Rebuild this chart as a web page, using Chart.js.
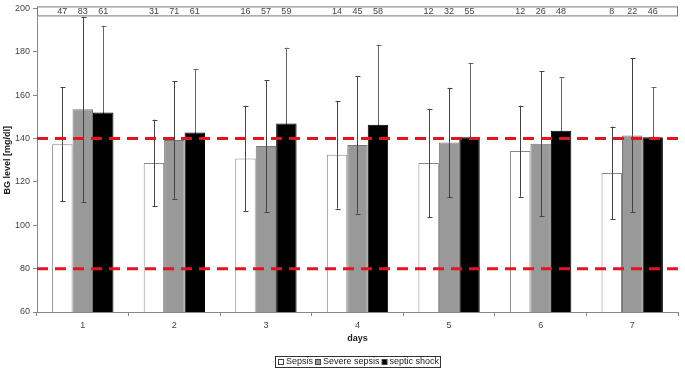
<!DOCTYPE html>
<html>
<head>
<meta charset="utf-8">
<script src="https://cdn.jsdelivr.net/npm/chart.js@4/dist/chart.umd.min.js"></script>
<style>
  html, body { margin: 0; padding: 0; background: #fff; }
  #wrap { width: 685px; height: 372px; }
</style>
</head>
<body>
<div id="wrap"><canvas id="grafico" width="685" height="372"></canvas></div>
<script>
  // dados
  const dias = ['1', '2', '3', '4', '5', '6', '7'];
  const nomesSeries = ['Sepsis', 'Severe sepsis', 'septic shock'];

  const mediaSepsis = [137.4, 128.7, 130.8, 132.5, 128.7, 134.2, 124.1];
  const mediaSevere = [153.5, 139.3, 136.5, 137.0, 138.2, 137.6, 141.4];
  const mediaShock = [152.0, 142.8, 146.9, 146.4, 140.6, 143.6, 140.6];

  const dpSepsis = [26.3, 20.0, 24.3, 24.8, 25.0, 21.0, 21.4];
  const dpSevere = [42.7, 27.1, 30.5, 31.6, 25.2, 33.5, 35.5];
  const dpShock = [40.0, 29.2, 35.0, 36.9, 34.3, 24.6, 23.0];

  const nSepsis = [47, 31, 16, 14, 12, 12, 8];
  const nSevere = [83, 71, 57, 45, 32, 26, 22];
  const nShock = [61, 61, 59, 58, 55, 48, 46];

  const limites = [140, 80];
  const yTicks = [60, 80, 100, 120, 140, 160, 180, 200];

  const fonte = '"Liberation Sans", Arial, sans-serif';
  const dpSeries = [dpSepsis, dpSevere, dpShock];
  const nSeries = [nSepsis, nSevere, nShock];

  // barras de erro, linhas de referência, caixa com n e legenda
  const extras = {
    id: 'extras',
    afterDatasetsDraw(chart) {
      const ctx = chart.ctx;
      const area = chart.chartArea;
      const y = chart.scales.y;
      const boxBottom = area.top + 8;

      // barras de erro (a parte de baixo da série preta fica escondida na barra)
      ctx.save();
      ctx.lineWidth = 1;
      chart.data.datasets.forEach((ds, i) => {
        const meta = chart.getDatasetMeta(i);
        meta.data.forEach((bar, j) => {
          const m = ds.data[j];
          const sd = dpSeries[i][j];
          const yTop = Math.max(y.getPixelForValue(m + sd), boxBottom);
          const yMid = y.getPixelForValue(m);
          const yBot = y.getPixelForValue(m - sd);
          const x = Math.round(bar.x) + 0.5;
          ctx.strokeStyle = i === 2 ? '#666' : '#444';
          ctx.beginPath();
          ctx.moveTo(x, yTop);
          ctx.lineTo(x, yMid);
          if (yTop > boxBottom) {
            ctx.moveTo(x - 2, Math.round(yTop) + 0.5);
            ctx.lineTo(x + 3, Math.round(yTop) + 0.5);
          }
          ctx.stroke();
          ctx.strokeStyle = i === 2 ? '#000' : '#444';
          ctx.beginPath();
          ctx.moveTo(x, yMid);
          ctx.lineTo(x, yBot);
          ctx.moveTo(x - 2, Math.round(yBot) + 0.5);
          ctx.lineTo(x + 3, Math.round(yBot) + 0.5);
          ctx.stroke();
        });
      });
      ctx.restore();

      // linhas tracejadas vermelhas
      ctx.save();
      ctx.strokeStyle = '#e3141c';
      ctx.lineWidth = 3;
      ctx.setLineDash([11, 7]);
      limites.forEach(v => {
        const py = y.getPixelForValue(v);
        ctx.beginPath();
        ctx.moveTo(area.left, py);
        ctx.lineTo(area.right, py);
        ctx.stroke();
      });
      ctx.restore();

      // caixa com os n
      ctx.save();
      ctx.fillStyle = '#fff';
      ctx.fillRect(area.left, area.top - 2, area.right - area.left, boxBottom - area.top + 2);
      ctx.strokeStyle = '#777';
      ctx.lineWidth = 1;
      ctx.strokeRect(area.left + 0.5, area.top - 1.5, area.right - area.left - 1, boxBottom - area.top + 1);
      ctx.fillStyle = '#444';
      ctx.font = '9px ' + fonte;
      ctx.textAlign = 'center';
      ctx.textBaseline = 'middle';
      chart.data.datasets.forEach((ds, i) => {
        chart.getDatasetMeta(i).data.forEach((bar, j) => {
          ctx.fillText(String(nSeries[i][j]), bar.x, area.top + 3);
        });
      });
      ctx.restore();

      // legenda
      ctx.save();
      ctx.font = '9px ' + fonte;
      ctx.textBaseline = 'middle';
      const itens = chart.data.datasets.map(ds => ({ txt: ds.label, cor: ds.backgroundColor }));
      const quad = 5, gap = 2, sep = 3;
      let total = 0;
      itens.forEach(it => { it.w = quad + gap + ctx.measureText(it.txt).width; total += it.w; });
      total += sep * (itens.length - 1) + 5;
      const cx = (area.left + area.right) / 2;
      const lx = Math.round(cx - total / 2);
      const ly = 356;
      ctx.strokeStyle = '#333';
      ctx.lineWidth = 1;
      ctx.strokeRect(lx + 0.5, ly + 0.5, Math.round(total), 11);
      let x = lx + 3;
      const cy = ly + 6;
      itens.forEach(it => {
        ctx.fillStyle = it.cor;
        ctx.fillRect(x + 0.5, cy - 2.5, quad, quad);
        ctx.strokeStyle = '#444';
        ctx.strokeRect(x + 0.5, cy - 2.5, quad, quad);
        ctx.fillStyle = '#222';
        ctx.fillText(it.txt, x + quad + gap + 1, cy);
        x += it.w + sep;
      });
      ctx.restore();
    }
  };

  const config = {
    type: 'bar',
    data: {
      labels: dias,
      datasets: [
        { label: nomesSeries[0], data: mediaSepsis, backgroundColor: '#ffffff', borderColor: '#888', borderWidth: 1 },
        { label: nomesSeries[1], data: mediaSevere, backgroundColor: '#999999', borderColor: '#777', borderWidth: 1 },
        { label: nomesSeries[2], data: mediaShock, backgroundColor: '#000000', borderColor: '#000', borderWidth: 1 },
      ],
    },
    options: {
      responsive: false,
      animation: false,
      layout: { padding: { top: 7, right: 7, left: 0, bottom: 27 } },
      datasets: { bar: { categoryPercentage: 0.67, barPercentage: 1 } },
      plugins: { legend: { display: false }, tooltip: { enabled: false } },
      scales: {
        x: {
          grid: { display: true, offset: true, drawOnChartArea: false, tickLength: 4, color: '#888' },
          border: { color: '#888' },
          ticks: { color: '#444', font: { family: fonte, size: 9 }, padding: 4 },
          title: { display: true, text: 'days', color: '#222', font: { family: fonte, size: 9, weight: 'bold' }, padding: { top: 4, bottom: 1 } },
          afterFit: s => { s.height = 33; },
        },
        y: {
          min: 60,
          max: 200,
          afterBuildTicks: s => { s.ticks = yTicks.map(v => ({ value: v })); },
          grid: { display: true, drawOnChartArea: false, tickLength: 4, color: '#888' },
          border: { color: '#888' },
          ticks: { color: '#444', font: { family: fonte, size: 9 }, padding: 3 },
          title: { display: true, text: 'BG level [mg/dl]', color: '#222', font: { family: fonte, size: 9, weight: 'bold' }, padding: { top: 2, bottom: 0 } },
          afterFit: s => { s.width = 37; },
        },
      },
    },
    plugins: [extras],
  };

  const grafico = new Chart(document.getElementById('grafico').getContext('2d'), config);
</script>
</body>
</html>
